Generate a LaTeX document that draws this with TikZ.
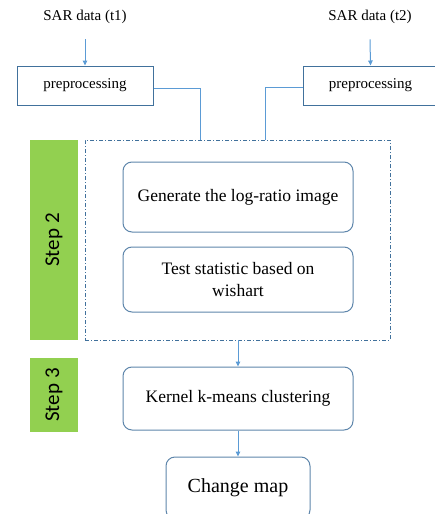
\documentclass[tikz,border=0pt]{standalone}
\usepackage{fontspec}
\setmainfont{Liberation Serif}
\newfontfamily\stepfont{Carlito}
\usetikzlibrary{arrows.meta, positioning, calc}
\definecolor{boxblue}{RGB}{65,113,156}
\definecolor{linkblue}{RGB}{91,155,213}
\definecolor{stepgreen}{RGB}{146,208,80}

\begin{document}
\begin{tikzpicture}[x=1pt, y=-1pt, >={Triangle[length=5pt,width=4.5pt]},
    prebox/.style={draw=boxblue, line width=1pt, minimum height=39pt, inner sep=0pt, font=\fontsize{15}{17}\selectfont},
    roundbox/.style={draw=boxblue!85!white, line width=1pt, rounded corners=9pt, minimum width=230pt, inner sep=0pt, align=center, font=\fontsize{17.5}{22}\selectfont},
    stepbar/.style={fill=stepgreen, minimum width=48pt, inner sep=0pt, font=\stepfont\fontsize{21}{24}\selectfont},
    link/.style={draw=linkblue, line width=1pt}]
    \useasboundingbox (0,0) rectangle (434,514);
    % Inputs
    \node (sar1) at (85,17) {\fontsize{15}{17}\selectfont SAR data (t1)};
    \node (sar2) at (370,17) {\fontsize{15}{17}\selectfont SAR data (t2)};
    \node[prebox, minimum width=136pt] (pre1) at (85,85.5) {preprocessing};
    \node[prebox, minimum width=135pt] (pre2) at (370.5,85.5) {preprocessing};
    \draw[link, ->] (sar1.south) ++(0,12) -- (pre1.north);
    \draw[link, ->] (sar2.south) ++(0,12) -- (pre2.north);
    % Step 2 group
    \node[draw=boxblue, line width=0.8pt, dash pattern=on 4pt off 2pt on 1pt off 2pt,
        minimum width=305pt, minimum height=200pt, inner sep=0pt] (grp) at (237.5,240) {};
    \node[stepbar, minimum height=200pt] (bar2) at (54,240) {\rotatebox{90}{Step 2}};
    \node[roundbox, minimum height=70pt] (logratio) at (238,197) {Generate the log-ratio image};
    \node[roundbox, minimum height=65pt] (wishart) at (238,279.5) {Test statistic based on\\wishart};
    \coordinate (j1) at (200,140);
    \coordinate (j2) at (265,140);
    \draw[link] ([yshift=-3pt]pre1.east) -| (j1);
    \draw[link] ([yshift=-1.5pt]pre2.west) -| (j2);
    % Step 3
    \node[stepbar, minimum height=74pt] (bar3) at (54,395) {\rotatebox{90}{Step 3}};
    \node[roundbox, minimum height=63pt] (kmeans) at (238,398.5) {Kernel k-means clustering};
    \node[roundbox, minimum width=144pt, minimum height=62pt, font=\fontsize{20}{24}\selectfont] (cmap) at (238,488) {Change map};
    \draw[link, ->] (grp.south -| kmeans.north) -- (kmeans.north);
    \draw[link, ->] (kmeans.south) -- (cmap.north);
\end{tikzpicture}
\end{document}
